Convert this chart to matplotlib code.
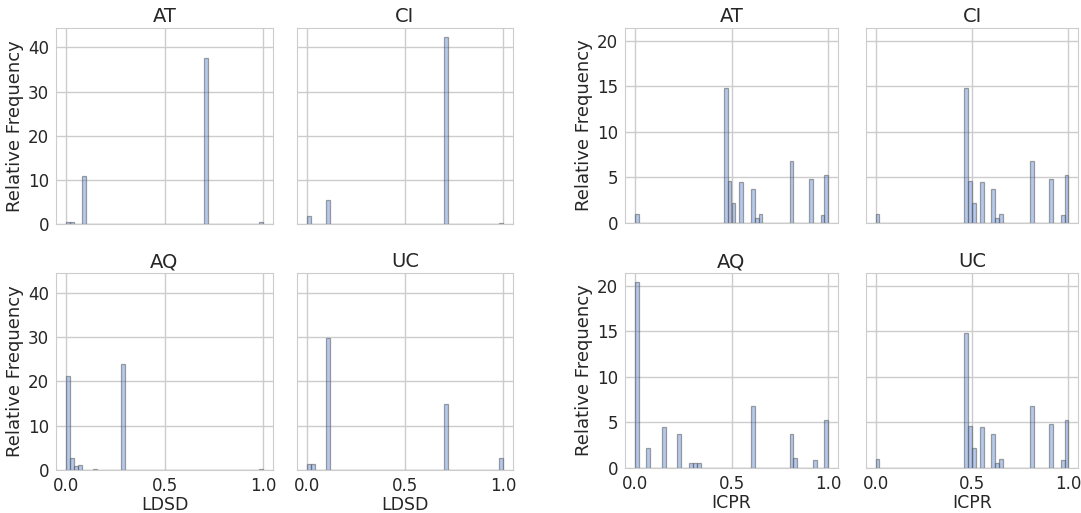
import numpy as np
import matplotlib
matplotlib.use("Agg")
import matplotlib.pyplot as plt
import seaborn as sns

sns.set_style("whitegrid")
plt.rcParams['font.family'] = ['DejaVu Sans']

# Histogram bins (50 equal bins over [0, 1]); data as (bin index, relative frequency)
n_bins = 50
panels = ["AT", "CI", "AQ", "UC"]

ldsd_bins = {
    "AT": [0, 1, 4, 35, 49],
    "CI": [0, 5, 35, 49],
    "AQ": [0, 1, 2, 3, 7, 14, 18, 49],
    "UC": [0, 1, 5, 35, 49],
}
ldsd_heights = {
    "AT": [0.5, 0.5, 10.9, 37.7, 0.4],
    "CI": [1.8, 5.5, 42.3, 0.2],
    "AQ": [21.1, 2.6, 0.8, 1.1, 0.15, 23.9, 0.1, 0.15],
    "UC": [1.3, 1.3, 29.7, 14.9, 2.65],
}

icpr_common_bins = [0, 23, 24, 25, 27, 30, 31, 32, 40, 45, 48, 49]
icpr_common_heights = [1.0, 14.85, 4.64, 2.14, 4.46, 3.76, 0.52, 1.03, 6.78, 4.79, 0.89, 5.3]
icpr_bins = {
    "AT": icpr_common_bins,
    "CI": icpr_common_bins,
    "AQ": [0, 3, 7, 11, 14, 15, 16, 30, 40, 41, 46, 49],
    "UC": icpr_common_bins,
}
icpr_heights = {
    "AT": icpr_common_heights,
    "CI": icpr_common_heights,
    "AQ": [20.37, 2.16, 4.47, 3.78, 0.55, 0.55, 0.55, 6.78, 3.78, 1.06, 0.92, 5.28],
    "UC": icpr_common_heights,
}

x_ticks = [0.0, 0.5, 1.0]
ldsd_yticks = [0, 10, 20, 30, 40]
icpr_yticks = [0, 5, 10, 15, 20]

W, H = 1081, 513
fig = plt.figure(figsize=(W / 100, H / 100), dpi=100)

def px_axes(x0, y0, x1, y1):
    return fig.add_axes([x0 / W, 1 - y1 / H, (x1 - x0) / W, (y1 - y0) / H])

edges = np.linspace(0, 1, n_bins + 1)
centers = (edges[:-1] + edges[1:]) / 2

groups = [
    ("LDSD", ldsd_bins, ldsd_heights, ldsd_yticks,
     [(56, 28, 273, 224), (297, 28, 513, 224), (56, 273, 273, 470), (297, 273, 513, 470)]),
    ("ICPR", icpr_bins, icpr_heights, icpr_yticks,
     [(625, 28, 838, 223), (866, 28, 1078, 223), (625, 273, 838, 468), (866, 273, 1078, 468)]),
]

text_col = "#262626"
face = (0.282, 0.471, 0.816, 0.4)
edge = (0.35, 0.35, 0.35, 0.55)
for xlabel, bins_d, heights_d, yticks, boxes in groups:
    axes = []
    for i, name in enumerate(panels):
        ax = px_axes(*boxes[i])
        w = np.zeros(n_bins)
        for b, h in zip(bins_d[name], heights_d[name]):
            w[b] = h
        ax.hist(centers, bins=edges, weights=w, facecolor=face,
                edgecolor=edge, linewidth=0.9)
        ax.set_xlim(-0.05, 1.05)
        ax.set_xticks(x_ticks)
        ax.set_yticks(yticks)
        ax.set_title(name, fontsize=14, color=text_col, pad=4)
        ax.tick_params(labelsize=12, colors=text_col, length=0, pad=5)
        for s in ax.spines.values():
            s.set_color("#cccccc")
        ax.grid(True, color="#cccccc", linewidth=1.0)
        if i % 2 == 0:
            ax.set_ylabel("Relative Frequency", fontsize=13, color=text_col, labelpad=3)
        else:
            ax.set_yticklabels([])
        if i >= 2:
            ax.set_xlabel(xlabel, fontsize=12.5, color=text_col, labelpad=1)
            ax.set_xticklabels(["0.0", "0.5", "1.0"])
        else:
            ax.set_xticklabels([])
        axes.append(ax)
    ymax = max(max(v) for v in heights_d.values()) * 1.05
    for ax in axes:
        ax.set_ylim(0, ymax)

fig.savefig("out.png", dpi=100)
